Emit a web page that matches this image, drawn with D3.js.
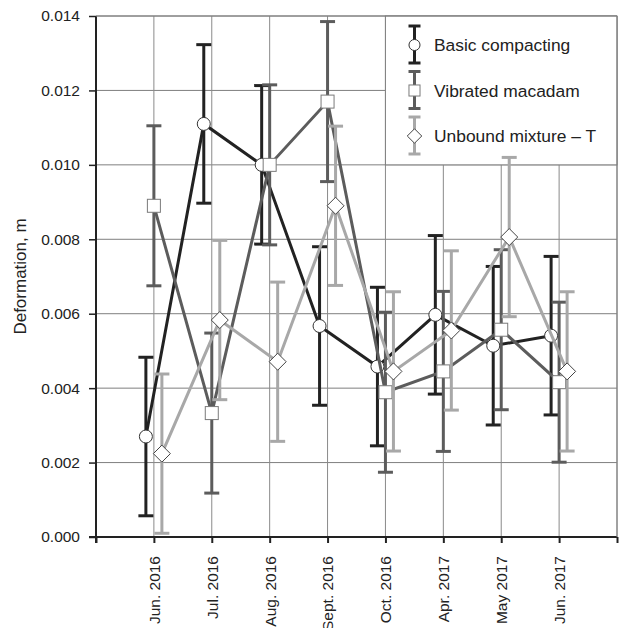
<!DOCTYPE html>
<html><head><meta charset="utf-8">
<script src="https://cdn.jsdelivr.net/npm/d3@7"></script>
<style>body{margin:0;background:#fff}svg{display:block}text{font-family:"Liberation Sans",Arial,sans-serif;fill:#222}</style>
</head><body>
<svg id="c" width="625" height="628"></svg>
<script>
const categories = ["Jun. 2016","Jul. 2016","Aug. 2016","Sept. 2016","Oct. 2016","Apr. 2017","May 2017","Jun. 2017"];
const basicValues = [0.0027,0.0111,0.0100,0.00567,0.00458,0.00597,0.00514,0.00541];
const basicErrors = [0.00213,0.00213,0.00213,0.00213,0.00213,0.00213,0.00213,0.00213];
const vibratedValues = [0.0089,0.00333,0.0100,0.0117,0.00389,0.00445,0.00557,0.00416];
const vibratedErrors = [0.00215,0.00215,0.00215,0.00215,0.00215,0.00215,0.00215,0.00215];
const unboundValues = [0.00224,0.00583,0.00471,0.0089,0.00445,0.00555,0.00806,0.00445];
const unboundErrors = [0.00214,0.00214,0.00214,0.00214,0.00214,0.00214,0.00214,0.00214];
const seriesNames = ["Basic compacting","Vibrated macadam","Unbound mixture \u2013 T"];
const yTicks = [0,0.002,0.004,0.006,0.008,0.010,0.012,0.014];

const svg = d3.select("#c");
const L=96, R=617, T=16, B=537;
const x = d3.scaleLinear().domain([0,categories.length+1]).range([L,R]);
const y = d3.scaleLinear().domain([0,0.014]).range([B,T]);

const series = [
  {name:seriesNames[0], vals:basicValues, errs:basicErrors, color:"#222", off:-8, shape:"circle", mstroke:"#333"},
  {name:seriesNames[1], vals:vibratedValues, errs:vibratedErrors, color:"#5c5c5c", off:0, shape:"square", mstroke:"#7a7a7a"},
  {name:seriesNames[2], vals:unboundValues, errs:unboundErrors, color:"#a8a8a8", off:8, shape:"diamond", mstroke:"#444"}
];

// grid
const g = svg.append("g");
g.selectAll("line.h").data(yTicks.slice(1)).join("line")
  .attr("x1",L).attr("x2",R).attr("y1",d=>y(d)).attr("y2",d=>y(d))
  .attr("stroke","#7f7f7f").attr("stroke-width",1);
g.selectAll("line.v").data(d3.range(1,categories.length+2)).join("line")
  .attr("x1",d=>x(d)).attr("x2",d=>x(d)).attr("y1",T).attr("y2",B)
  .attr("stroke","#8a8a8a").attr("stroke-width",1);

// legend box (behind data)
const lx = x(5), ly = T, lw = R - x(5), lh = y(0.010) - T;
svg.append("rect").attr("x",lx).attr("y",ly).attr("width",lw).attr("height",lh)
  .attr("fill","#fff").attr("stroke","#7f7f7f").attr("stroke-width",1);

// axes
const yAxis = d3.axisLeft(y).tickValues(yTicks).tickFormat(d3.format(".3f")).tickSize(7).tickPadding(9);
const ya = svg.append("g").attr("transform",`translate(${L},0)`).call(yAxis);
ya.select(".domain").remove();
ya.selectAll("line").attr("stroke","#222").attr("stroke-width",1.5);
ya.selectAll("text").style("font-size","15.5px").attr("fill","#222");

const xAxis = d3.axisBottom(x).tickValues(d3.range(0,categories.length+2)).tickSize(6)
  .tickFormat(d=> (d>=1 && d<=categories.length) ? categories[d-1] : "");
const xa = svg.append("g").attr("transform",`translate(0,${B})`).call(xAxis);
xa.select(".domain").remove();
xa.selectAll("line").attr("stroke","#222").attr("stroke-width",2);
xa.selectAll("text").style("font-size","15.5px").attr("fill","#222")
  .attr("text-anchor","end").attr("dy","0.35em")
  .attr("transform","translate(0,19) rotate(-90)").attr("x",0).attr("y",0);

svg.append("line").attr("x1",L).attr("x2",L).attr("y1",T).attr("y2",B+6).attr("stroke","#222").attr("stroke-width",2);
svg.append("line").attr("x1",L-7).attr("x2",R).attr("y1",B).attr("y2",B).attr("stroke","#222").attr("stroke-width",2);
svg.append("line").attr("x1",L).attr("x2",R).attr("y1",T).attr("y2",T).attr("stroke","#7f7f7f").attr("stroke-width",1);
svg.append("line").attr("x1",R).attr("x2",R).attr("y1",T).attr("y2",B).attr("stroke","#7f7f7f").attr("stroke-width",1);

svg.append("text").attr("transform",`translate(26,${(T+B)/2}) rotate(-90)`)
  .attr("text-anchor","middle").style("font-size","17px").text("Deformation, m");

function marker(sel, shape, cx, cy, s, stroke){
  if(shape==="circle") sel.append("circle").attr("cx",cx).attr("cy",cy).attr("r",6.5*s)
    .attr("fill","#fff").attr("stroke",stroke).attr("stroke-width",1);
  else if(shape==="square") sel.append("rect").attr("x",cx-6.5*s).attr("y",cy-6.5*s).attr("width",13*s).attr("height",13*s)
    .attr("fill","#fff").attr("stroke",stroke).attr("stroke-width",1);
  else { const h=8.5*s; sel.append("path").attr("d",`M${cx},${cy-h}L${cx+h},${cy}L${cx},${cy+h}L${cx-h},${cy}Z`)
    .attr("fill","#fff").attr("stroke",stroke).attr("stroke-width",1); }
}

const cap = 7.5;
series.forEach(s=>{
  const sg = svg.append("g");
  const pts = s.vals.map((v,i)=>({cx:x(i+1)+s.off, v, e:s.errs[i]}));
  pts.forEach(p=>{
    const t=y(p.v+p.e), b=y(p.v-p.e);
    sg.append("line").attr("x1",p.cx).attr("x2",p.cx).attr("y1",t).attr("y2",b).attr("stroke",s.color).attr("stroke-width",3);
    sg.append("line").attr("x1",p.cx-cap).attr("x2",p.cx+cap).attr("y1",t).attr("y2",t).attr("stroke",s.color).attr("stroke-width",3);
    sg.append("line").attr("x1",p.cx-cap).attr("x2",p.cx+cap).attr("y1",b).attr("y2",b).attr("stroke",s.color).attr("stroke-width",3);
  });
  sg.append("path").datum(pts).attr("fill","none").attr("stroke",s.color).attr("stroke-width",3)
    .attr("d",d3.line().x(p=>p.cx).y(p=>y(p.v)));
  pts.forEach(p=>marker(sg,s.shape,p.cx,y(p.v),1,s.mstroke));
});

// legend entries
series.forEach((s,i)=>{
  const cy = 45 + i*45.5, cx = 414.5;
  const lg = svg.append("g");
  lg.append("line").attr("x1",cx).attr("x2",cx).attr("y1",cy-19).attr("y2",cy+18).attr("stroke",s.color).attr("stroke-width",3);
  lg.append("line").attr("x1",cx-6).attr("x2",cx+6).attr("y1",cy-19).attr("y2",cy-19).attr("stroke",s.color).attr("stroke-width",3);
  lg.append("line").attr("x1",cx-6).attr("x2",cx+6).attr("y1",cy+18).attr("y2",cy+18).attr("stroke",s.color).attr("stroke-width",3);
  marker(lg,s.shape,cx,cy,0.85,s.mstroke);
  lg.append("text").attr("x",434).attr("y",cy).attr("dy","0.35em").style("font-size","17.4px").text(s.name);
});
</script>
</body></html>
